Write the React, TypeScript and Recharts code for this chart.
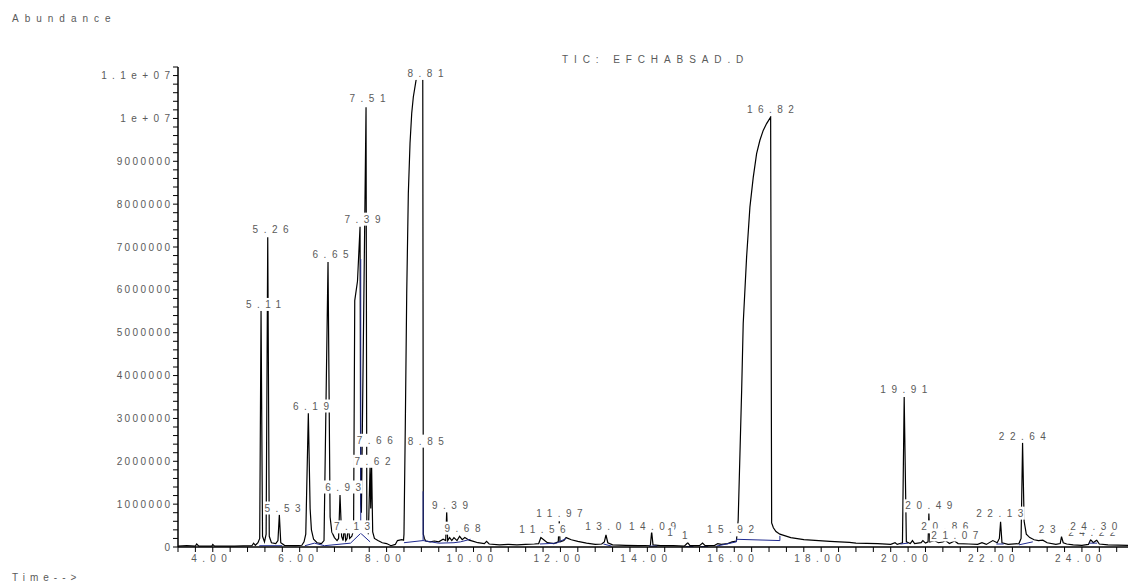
import React from "react";
import { ComposedChart, Line, Scatter, XAxis, YAxis } from "recharts";

// TIC trace: [retention time (min), abundance]
const ticTrace: [number, number][] = [
  [3.2, 0.02e6], [3.4, 0.03e6], [3.6, 0.02e6], [3.63, 0.07e6], [3.68, 0.02e6],
  [3.98, 0.02e6], [4.0, 0.06e6], [4.04, 0.02e6], [4.5, 0.02e6], [4.9, 0.03e6],
  [4.94, 0.09e6], [4.98, 0.04e6], [5.04, 0.1e6], [5.08, 0.2e6], [5.111, 5.52e6],
  [5.145, 0.25e6], [5.19, 0.12e6], [5.228, 0.3e6], [5.265, 7.23e6], [5.3, 0.25e6],
  [5.35, 0.1e6], [5.45, 0.08e6], [5.5, 0.15e6], [5.532, 0.75e6], [5.565, 0.1e6],
  [5.65, 0.04e6], [5.9, 0.03e6], [6.05, 0.04e6], [6.1, 0.12e6], [6.14, 0.3e6],
  [6.199, 3.12e6], [6.24, 0.9e6], [6.27, 0.4e6], [6.32, 0.18e6], [6.4, 0.1e6],
  [6.5, 0.08e6], [6.56, 0.15e6], [6.652, 6.65e6], [6.7, 0.7e6], [6.74, 0.35e6],
  [6.8, 0.22e6], [6.86, 0.15e6], [6.895, 0.2e6], [6.928, 1.21e6], [6.965, 0.25e6],
  [7.0, 0.15e6], [7.027, 0.47e6], [7.06, 0.15e6], [7.09, 0.2e6], [7.119, 0.47e6],
  [7.15, 0.2e6], [7.2, 0.25e6], [7.24, 0.4e6], [7.267, 5.75e6], [7.33, 6.2e6],
  [7.389, 7.47e6], [7.405, 1.0e6], [7.42, 0.8e6], [7.527, 10.26e6], [7.545, 0.6e6],
  [7.58, 0.3e6], [7.62, 1.9e6], [7.635, 0.9e6], [7.655, 1.9e6], [7.68, 0.35e6],
  [7.72, 0.2e6], [7.8, 0.15e6], [7.9, 0.1e6], [8.0, 0.08e6], [8.1, 0.03e6],
  [8.2, 0.06e6], [8.25, 0.15e6], [8.35, 0.17e6], [8.39, 0.16e6], [8.4, 0.3e6],
  [8.43, 2.8e6], [8.463, 5.92e6], [8.5, 8.25e6], [8.539, 9.42e6], [8.578, 10.12e6],
  [8.615, 10.5e6], [8.677, 10.89e6], [8.72, 11.0e6], [8.832, 11.0e6], [8.845, 0.3e6],
  [8.87, 0.2e6], [8.9, 0.14e6], [9.0, 0.12e6], [9.1, 0.14e6], [9.2, 0.12e6],
  [9.3, 0.18e6], [9.36, 0.15e6], [9.383, 0.82e6], [9.405, 0.15e6], [9.45, 0.22e6],
  [9.5, 0.15e6], [9.55, 0.22e6], [9.62, 0.15e6], [9.68, 0.25e6], [9.74, 0.17e6],
  [9.8, 0.22e6], [9.9, 0.16e6], [10.0, 0.13e6], [10.1, 0.1e6], [10.25, 0.08e6],
  [10.3, 0.13e6], [10.36, 0.07e6], [10.6, 0.05e6], [10.8, 0.06e6], [11.0, 0.05e6],
  [11.2, 0.06e6], [11.4, 0.07e6], [11.5, 0.08e6], [11.55, 0.22e6], [11.6, 0.18e6],
  [11.7, 0.1e6], [11.85, 0.08e6], [11.95, 0.12e6], [11.973, 0.6e6], [11.99, 0.12e6],
  [12.08, 0.15e6], [12.13, 0.22e6], [12.25, 0.17e6], [12.4, 0.13e6], [12.6, 0.09e6],
  [12.8, 0.06e6], [12.95, 0.07e6], [13.01, 0.12e6], [13.048, 0.28e6], [13.09, 0.1e6],
  [13.2, 0.05e6], [13.5, 0.04e6], [13.8, 0.03e6], [14.07, 0.04e6], [14.099, 0.36e6],
  [14.13, 0.05e6], [14.3, 0.03e6], [14.6, 0.03e6], [14.85, 0.02e6], [14.93, 0.1e6],
  [14.98, 0.03e6], [15.2, 0.03e6], [15.27, 0.09e6], [15.33, 0.03e6], [15.55, 0.04e6],
  [15.62, 0.08e6], [15.7, 0.06e6], [15.85, 0.08e6], [15.95, 0.12e6], [16.05, 0.14e6],
  [16.09, 0.63e6], [16.17, 3.66e6], [16.206, 5.22e6], [16.284, 6.77e6], [16.36, 7.93e6],
  [16.436, 8.62e6], [16.514, 9.18e6], [16.59, 9.49e6], [16.666, 9.72e6], [16.744, 9.88e6],
  [16.837, 10.03e6], [16.86, 0.56e6], [16.9, 0.45e6], [16.96, 0.36e6], [17.05, 0.3e6],
  [17.3, 0.22e6], [17.6, 0.17e6], [18.2, 0.13e6], [18.65, 0.11e6], [18.8, 0.09e6],
  [19.3, 0.08e6], [19.6, 0.06e6], [19.7, 0.1e6], [19.75, 0.06e6], [19.87, 0.1e6],
  [19.91, 3.5e6], [19.96, 0.12e6], [20.05, 0.08e6], [20.1, 0.15e6], [20.15, 0.08e6],
  [20.3, 0.1e6], [20.34, 0.15e6], [20.4, 0.09e6], [20.46, 0.12e6], [20.478, 0.78e6],
  [20.5, 0.12e6], [20.6, 0.15e6], [20.7, 0.1e6], [20.8, 0.12e6], [20.86, 0.15e6],
  [20.95, 0.08e6], [21.07, 0.14e6], [21.15, 0.08e6], [21.4, 0.07e6], [21.6, 0.06e6],
  [21.7, 0.1e6], [21.8, 0.06e6], [21.95, 0.15e6], [22.05, 0.1e6], [22.1, 0.2e6],
  [22.128, 0.59e6], [22.16, 0.1e6], [22.3, 0.06e6], [22.55, 0.08e6], [22.6, 0.2e6],
  [22.634, 2.43e6], [22.67, 0.6e6], [22.72, 0.3e6], [22.8, 0.22e6], [22.9, 0.17e6],
  [23.0, 0.15e6], [23.1, 0.16e6], [23.2, 0.1e6], [23.4, 0.06e6], [23.5, 0.08e6],
  [23.53, 0.24e6], [23.57, 0.1e6], [23.65, 0.07e6], [23.8, 0.05e6], [24.0, 0.04e6],
  [24.15, 0.06e6], [24.2, 0.17e6], [24.26, 0.1e6], [24.34, 0.16e6], [24.4, 0.07e6],
  [24.6, 0.05e6], [25.06, 0.04e6],
];

// integration baselines (blue)
const baselineSegments: [number, number][][] = [
  [[5.07, 0.03e6], [5.6, 0.03e6]],
  [[6.12, 0.03e6], [6.34, 0.09e6], [6.57, 0.03e6], [7.17, 0.09e6], [7.405, 0.32e6], [7.62, 0.12e6]],
  [[7.405, 0.32e6], [7.405, 6.72e6]],
  [[8.4, 0.1e6], [8.84, 0.15e6], [8.84, 1.3e6]],
  [[8.84, 0.15e6], [9.2, 0.09e6], [9.55, 0.1e6], [9.7, 0.12e6], [9.93, 0.18e6]],
  [[11.53, 0.07e6], [11.91, 0.09e6], [12.13, 0.2e6]],
  [[12.99, 0.07e6], [13.18, 0.02e6]],
  [[14.04, 0.02e6], [14.23, 0.02e6]],
  [[14.88, 0.01e6], [15.06, 0.01e6]],
  [[15.22, 0.01e6], [15.4, 0.01e6]],
  [[15.59, 0.02e6], [16.05, 0.12e6], [16.05, 0.18e6], [17.05, 0.15e6], [17.05, 0.26e6]],
  [[19.82, 0.07e6], [20.0, 0.09e6]],
  [[22.03, 0.07e6], [22.2, 0.07e6]],
  [[22.55, 0.05e6], [22.87, 0.12e6]],
  [[24.16, 0.09e6], [24.35, 0.09e6]],
];

// peak labels as they show in the picture: text, label centre time, label centre abundance
const peakText = [
  "5.11", "5.26", "5.53", "6.19", "6.65", "6.93", "7.13", "7.39", "7.51", "7.62", "7.66",
  "8.81", "8.85", "9.39", "9.68", "11.56", "11.97", "13.0", "14.09", "1", "1",
  "15.92", "16.82", "19.91", "20.49", "20.86", "21.07", "22.13", "22.64", "23", "24.22", "24.30",
];
const peakLabelTime = [
  5.169, 5.33, 5.606, 6.261, 6.71, 7.0, 7.205, 7.446, 7.561, 7.676, 7.727,
  8.895, 8.902, 9.459, 9.747, 11.587, 11.978, 12.985, 14.118, 14.52, 14.86,
  15.912, 16.832, 19.903, 20.478, 20.846, 21.076, 22.111, 22.629, 23.20, 24.228, 24.274,
];
const peakLabelAbund = [
  5.66e6, 7.41e6, 0.91e6, 3.29e6, 6.83e6, 1.4e6, 0.47e6, 7.65e6, 10.47e6, 2.0e6, 2.49e6,
  11.05e6, 2.47e6, 0.96e6, 0.44e6, 0.4e6, 0.79e6, 0.47e6, 0.49e6, 0.33e6, 0.26e6,
  0.4e6, 10.21e6, 3.68e6, 0.96e6, 0.47e6, 0.28e6, 0.79e6, 2.59e6, 0.4e6, 0.33e6, 0.49e6,
];

const xLabelValues = [4, 6, 8, 10, 12, 14, 16, 18, 20, 22, 24];
const xLabelText = ["4.00", "6.00", "8.00", "10.00", "12.00", "14.00", "16.00", "18.00", "20.00", "22.00", "24.00"];
const yLabelValues = [0, 1e6, 2e6, 3e6, 4e6, 5e6, 6e6, 7e6, 8e6, 9e6, 1e7, 1.1e7];
const yLabelText = ["0", "1000000", "2000000", "3000000", "4000000", "5000000", "6000000", "7000000", "8000000", "9000000", "1e+07", "1.1e+07"];

const xTicks = Array.from({ length: 55 }, (_, i) => Math.round((3.2 + i * 0.4) * 10) / 10);
const yTicks = Array.from({ length: 57 }, (_, i) => i * 200000);

const FONT = "'Liberation Sans', Arial, sans-serif";
const GREY = "#5a5a5a";

const traceData = ticTrace.map(([t, a]) => ({ t, a }));
const baselineData = baselineSegments.flatMap((seg) => [
  ...seg.map(([t, a]) => ({ t, a })),
  { t: seg[seg.length - 1][0], a: null as number | null },
]);
const labelData = peakText.map((text, i) => ({ t: peakLabelTime[i], a: peakLabelAbund[i], text }));

const charW = (s: string) => s.split("").reduce((w, c) => w + (c === "." ? 2.78 : 5.56), 0);

const PeakLabel = (props: any) => {
  const { cx, cy, payload } = props;
  const sp = 5.5;
  const w = charW(payload.text) + sp * (payload.text.length - 1);
  return (
    <g>
      <rect x={cx - w / 2 - 1.5} y={cy - 6.5} width={w + 3} height={13} fill="#fff" />
      <text x={cx + sp / 2} y={cy} dy="0.36em" textAnchor="middle" fontSize={10}
        fontFamily={FONT} fill={GREY} style={{ letterSpacing: sp }}>
        {payload.text}
      </text>
    </g>
  );
};

const XTick = (props: any) => {
  const { x, y, payload } = props;
  const i = xLabelValues.findIndex((v) => Math.abs(v - payload.value) < 1e-6);
  if (i < 0) return <g />;
  return (
    <text x={x - 1} y={y + 1} dy="0.71em" textAnchor="middle" fontSize={10}
      fontFamily={FONT} fill={GREY} style={{ letterSpacing: 5.4 }}>
      {xLabelText[i]}
    </text>
  );
};

const YTick = (props: any) => {
  const { x, y, payload } = props;
  const i = yLabelValues.findIndex((v) => Math.abs(v - payload.value) < 1);
  if (i < 0) return <g />;
  const label = yLabelText[i];
  const sp = label.includes("e") ? 5.4 : 2.4;
  return (
    <text x={x + sp - 1} y={y} dy="0.36em" textAnchor="end" fontSize={10}
      fontFamily={FONT} fill={GREY} style={{ letterSpacing: sp }}>
      {label}
    </text>
  );
};

const textStyle: React.CSSProperties = {
  position: "absolute",
  fontFamily: FONT,
  fontSize: 10,
  lineHeight: "12px",
  color: GREY,
  letterSpacing: 6,
  whiteSpace: "pre",
};

export default function App() {
  return (
    <div style={{ position: "absolute", left: 0, top: 0, width: 1128, height: 586, background: "#fff", overflow: "hidden" }}>
      <div style={{ ...textStyle, left: 12, top: 13 }}>Abundance</div>
      <div style={{ ...textStyle, left: 562, top: 54, letterSpacing: 5.9 }}>TIC: EFCHABSAD.D</div>
      <div style={{ ...textStyle, left: 12, top: 572, letterSpacing: 5 }}>Time--&gt;</div>
      <ComposedChart width={1128} height={586} data={traceData}
        margin={{ top: 67, right: 0, bottom: 0, left: 0 }}>
        <XAxis type="number" dataKey="t" domain={[3.2, 25.06]} allowDataOverflow
          ticks={xTicks} interval={0} height={39} tickSize={5} tickMargin={2}
          axisLine={{ stroke: "#000", strokeWidth: 1.5 }} tickLine={{ stroke: "#000" }}
          tick={<XTick />} />
        <YAxis type="number" dataKey="a" domain={[0, 11200000]} allowDataOverflow
          ticks={yTicks} interval={0} width={178} tickSize={5} tickMargin={2}
          axisLine={{ stroke: "#000", strokeWidth: 1.5 }} tickLine={{ stroke: "#000" }}
          tick={<YTick />} />
        <Line data={traceData} dataKey="a" type="linear" stroke="#000" strokeWidth={1.2}
          dot={false} activeDot={false} isAnimationActive={false} />
        <Line data={baselineData} dataKey="a" type="linear" stroke="#1f2a8f" strokeWidth={1}
          dot={false} activeDot={false} isAnimationActive={false} />
        <Scatter data={labelData} dataKey="a" shape={<PeakLabel />} isAnimationActive={false} />
      </ComposedChart>
    </div>
  );
}
